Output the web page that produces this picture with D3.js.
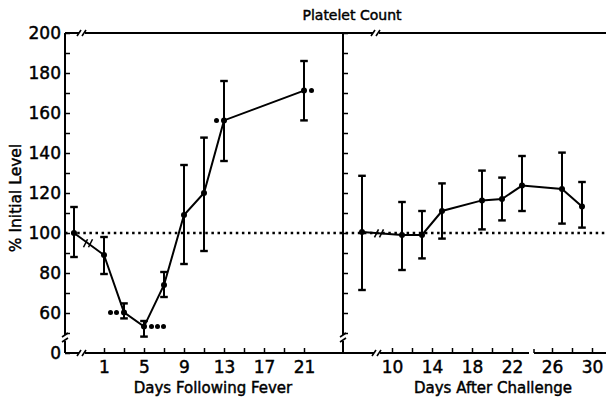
<!DOCTYPE html>
<html>
<head>
<meta charset="utf-8">
<script src="https://cdn.jsdelivr.net/npm/d3@7/dist/d3.min.js"></script>
<style>
  body { margin: 0; background: #fff; }
  svg { display: block; font-family: "DejaVu Sans", sans-serif; }
  .lbl { fill: #000; stroke: #000; stroke-width: 0.45px; }
</style>
</head>
<body>
<svg id="chart" width="606" height="402"></svg>
<script>
// left panel: days following fever (-2 = pre-fever baseline, drawn before the axis break)
const feverDays = [-2, 1, 3, 5, 7, 9, 11, 13, 21];
const feverMean = [100, 89, 60.3, 53.2, 74, 109, 120, 156.3, 171.2];
const feverLow  = [88, 79.5, 57.3, 48.2, 68, 84.5, 91, 136, 156.3];
const feverHigh = [113, 98, 64.8, 56, 80.5, 134, 147.7, 176, 186];

// significance markers (number of asterisks, side of the point)
const sigDays  = [3, 5, 13, 21];
const sigCount = [2, 3, 1, 1];
const sigSide  = [-1, 1, -1, 1];

// right panel: days after challenge (7 = pre-challenge baseline)
const challengeDays = [7, 11, 13, 15, 19, 21, 23, 27, 29];
const challengeMean = [100.5, 99, 99, 111, 116.3, 117, 123.7, 122, 113.2];
const challengeLow  = [71.5, 81.5, 87.3, 97.2, 101.8, 106.3, 111, 104.7, 102.7];
const challengeHigh = [128.6, 115.5, 111, 124.8, 131.2, 127.7, 138.5, 140.2, 125.5];

// ticks
const yTicks = d3.range(40, 201, 10);            // 40 is drawn as the broken "0"
const feverTicks = d3.range(1, 22, 2);
const feverLabels = [1, 5, 9, 13, 17, 21];
const challengeTicks = [10, 12, 14, 16, 18, 20, 22, 26, 28, 30];
const challengeLabels = [10, 14, 18, 22, 26, 30];

const svg = d3.select("#chart");
const W = 606;
const plotTop = 33, base = 353, leftX = 65, midX = 343;

const y = d3.scaleLinear().domain([40, 200]).range([base, plotTop]);
const xL = d3.scaleLinear().domain([1, 21]).range([104, 304]);
const xR = d3.scaleLinear().domain([10, 30]).range([392, 592]);

svg.append("rect").attr("width", W).attr("height", 402).attr("fill", "#fff");

/* --- reference line at 100% --- */
svg.append("line")
  .attr("x1", leftX).attr("x2", W)
  .attr("y1", y(100)).attr("y2", y(100))
  .attr("stroke", "#000").attr("stroke-width", 2.5)
  .attr("stroke-dasharray", "2.5,3.6");

/* --- frame --- */
const frame = svg.append("g").attr("stroke", "#000").attr("stroke-width", 2).attr("fill", "none");
frame.append("line").attr("x1", leftX).attr("x2", W).attr("y1", plotTop).attr("y2", plotTop);
frame.append("line").attr("x1", leftX).attr("x2", W).attr("y1", base).attr("y2", base);
frame.append("line").attr("x1", leftX).attr("x2", leftX).attr("y1", plotTop).attr("y2", base);
frame.append("line").attr("x1", midX).attr("x2", midX).attr("y1", plotTop).attr("y2", base);

/* --- axes --- */
function styleAxis(g) {
  g.select(".domain").remove();
  g.attr("font-family", "DejaVu Sans, sans-serif");
  g.selectAll("line").attr("stroke-width", 1.5);
  g.selectAll("text").attr("class", "lbl").style("font-size", "17px");
}

svg.append("g")
  .attr("transform", `translate(${leftX},0)`)
  .call(d3.axisLeft(y).tickValues(yTicks).tickSizeInner(-5).tickSizeOuter(0).tickPadding(4)
    .tickFormat(d => d === 40 ? "0" : (d % 20 === 0 ? d : "")))
  .call(styleAxis);

svg.append("g")
  .attr("transform", `translate(${midX},0)`)
  .call(d3.axisRight(y).tickValues(yTicks.filter(d => d > 40)).tickSize(5).tickFormat(""))
  .call(styleAxis);

svg.append("g")
  .attr("transform", `translate(0,${base})`)
  .call(d3.axisBottom(xL).tickValues(feverTicks).tickSizeInner(-5).tickSizeOuter(0).tickPadding(8)
    .tickFormat(d => feverLabels.includes(d) ? d : ""))
  .call(styleAxis);

svg.append("g")
  .attr("transform", `translate(0,${base})`)
  .call(d3.axisBottom(xR).tickValues(challengeTicks).tickSizeInner(-5).tickSizeOuter(0).tickPadding(8)
    .tickFormat(d => challengeLabels.includes(d) ? d : ""))
  .call(styleAxis);

/* --- axis breaks --- */
function hBreak(cx, cy) {
  svg.append("rect").attr("x", cx - 3).attr("y", cy - 2).attr("width", 6).attr("height", 4).attr("fill", "#fff");
  [-3, 2].forEach(o => {
    svg.append("line")
      .attr("x1", cx + o - 2).attr("y1", cy + 3).attr("x2", cx + o + 2).attr("y2", cy - 3)
      .attr("stroke", "#000").attr("stroke-width", 1.6);
  });
}
function vBreak(cx, cy) {
  svg.append("rect").attr("x", cx - 2).attr("y", cy - 3).attr("width", 4).attr("height", 6).attr("fill", "#fff");
  [-3, 2].forEach(o => {
    svg.append("line")
      .attr("x1", cx - 3).attr("y1", cy + o + 2).attr("x2", cx + 3).attr("y2", cy + o - 2)
      .attr("stroke", "#000").attr("stroke-width", 1.6);
  });
}
hBreak(82, plotTop);
hBreak(82, base);
hBreak(376, plotTop);
hBreak(377, base);
vBreak(leftX, 338);
vBreak(midX, 338);
// small gap in the challenge axis between 22 and 26
svg.append("rect").attr("x", xR(24) - 3).attr("y", base - 2).attr("width", 5).attr("height", 4).attr("fill", "#fff");
svg.append("line").attr("x1", xR(24) + 2).attr("x2", xR(24) + 2).attr("y1", base).attr("y2", base - 4)
  .attr("stroke", "#000").attr("stroke-width", 1.5);

/* --- series --- */
function drawSeries(x, days, mean, low, high) {
  const pts = days.map((d, i) => ({ d, m: mean[i], lo: low[i], hi: high[i] }));
  const g = svg.append("g");
  g.append("path").datum(pts)
    .attr("fill", "none").attr("stroke", "#000").attr("stroke-width", 2)
    .attr("d", d3.line().x(p => x(p.d)).y(p => y(p.m)));
  const bars = g.selectAll(".err").data(pts).join("g").attr("class", "err").attr("stroke", "#000");
  bars.append("line")
    .attr("x1", p => x(p.d)).attr("x2", p => x(p.d))
    .attr("y1", p => y(p.lo)).attr("y2", p => y(p.hi)).attr("stroke-width", 2);
  ["lo", "hi"].forEach(k => {
    bars.append("line")
      .attr("x1", p => x(p.d) - 3.8).attr("x2", p => x(p.d) + 3.8)
      .attr("y1", p => y(p[k])).attr("y2", p => y(p[k])).attr("stroke-width", 2.4);
  });
  g.selectAll("circle").data(pts).join("circle")
    .attr("cx", p => x(p.d)).attr("cy", p => y(p.m)).attr("r", 3).attr("fill", "#000");
  return pts;
}
const fever = drawSeries(xL, feverDays, feverMean, feverLow, feverHigh);
const chal = drawSeries(xR, challengeDays, challengeMean, challengeLow, challengeHigh);

// breaks on the data lines
function lineBreak(x, p0, p1, at) {
  const t = (at - x(p0.d)) / (x(p1.d) - x(p0.d));
  const cy = y(p0.m) + t * (y(p1.m) - y(p0.m));
  [-2.5, 2.5].forEach(o => {
    svg.append("line")
      .attr("x1", at + o - 2).attr("y1", cy + 4).attr("x2", at + o + 2).attr("y2", cy - 4)
      .attr("stroke", "#000").attr("stroke-width", 1.6);
  });
}
lineBreak(xL, fever[0], fever[1], 88);
lineBreak(xR, chal[0], chal[1], 379);

/* --- significance asterisks --- */
sigDays.forEach((d, i) => {
  const idx = feverDays.indexOf(d);
  const cx = xL(d), cy = y(feverMean[idx]);
  d3.range(sigCount[i]).forEach(k => {
    svg.append("circle")
      .attr("cx", cx + sigSide[i] * (7.5 + k * 6))
      .attr("cy", cy)
      .attr("r", 2.5).attr("fill", "#000");
  });
});

/* --- labels --- */
svg.append("text").attr("class", "lbl").attr("x", 352).attr("y", 20).attr("text-anchor", "middle")
  .style("font-size", "14px").text("Platelet Count");
svg.append("text").attr("class", "lbl").attr("x", 213).attr("y", 393).attr("text-anchor", "middle")
  .style("font-size", "15px").text("Days Following Fever");
svg.append("text").attr("class", "lbl").attr("x", 493).attr("y", 393).attr("text-anchor", "middle")
  .style("font-size", "15px").text("Days After Challenge");
svg.append("text").attr("class", "lbl")
  .attr("transform", `translate(21,198) rotate(-90)`)
  .attr("text-anchor", "middle")
  .style("font-size", "15.5px").text("% Initial Level");
</script>
</body>
</html>
